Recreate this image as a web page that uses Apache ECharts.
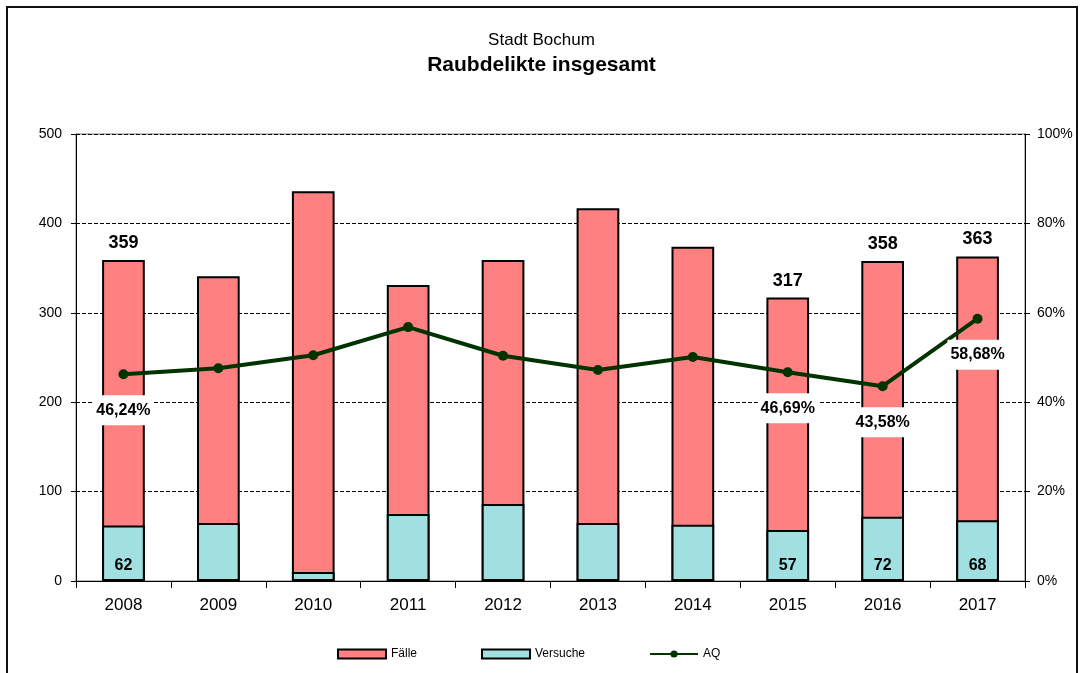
<!DOCTYPE html>
<html>
<head>
<meta charset="utf-8">
<script src="https://cdn.jsdelivr.net/npm/echarts@6/dist/echarts.min.js"></script>
<style>
  html, body { margin: 0; padding: 0; background: #fff; }
  #wrap { position: relative; width: 1083px; height: 673px; }
  #frame {
    position: absolute; left: 6px; top: 6px; width: 1072px; height: 680px;
    border: 2px solid #111; border-bottom: none; box-sizing: border-box;
  }
  #chart { position: absolute; left: 0; top: 0; width: 1083px; height: 673px; }
</style>
</head>
<body>
<div id="wrap">
  <div id="frame"></div>
  <div id="chart"></div>
</div>
<script>
// data
const years = ['2008', '2009', '2010', '2011', '2012', '2013', '2014', '2015', '2016', '2017']
const faelle = [359, 341, 436, 331, 359, 417, 374, 317, 358, 363]
const versuche = [62, 65, 10, 75, 86, 65, 63, 57, 72, 68]
const aq = [46.24, 47.6, 50.5, 56.8, 50.4, 47.2, 50.1, 46.69, 43.58, 58.68]
// only these years carry value labels in the original
const labelledYears = ['2008', '2015', '2016', '2017']

const FONT = 'Liberation Sans, Arial, sans-serif'
const showLabel = i => labelledYears.indexOf(years[i]) >= 0

let chart = echarts.init(document.getElementById('chart'), null, { renderer: 'canvas' })

chart.setOption({
  animation: false,
  backgroundColor: 'transparent',
  textStyle: { fontFamily: FONT, color: '#000' },
  title: [
    {
      text: 'Stadt Bochum',
      left: 'center',
      top: 27,
      textStyle: { fontFamily: FONT, fontSize: 17, fontWeight: 'normal', color: '#000' }
    },
    {
      text: 'Raubdelikte insgesamt',
      left: 'center',
      top: 50,
      textStyle: { fontFamily: FONT, fontSize: 21, fontWeight: 'bold', color: '#000' }
    }
  ],
  legend: {
    left: 332,
    top: 643,
    itemGap: 64,
    itemWidth: 48,
    itemHeight: 9,
    textStyle: { fontFamily: FONT, fontSize: 12, color: '#000' },
    data: [
      { name: 'Fälle', icon: 'rect' },
      { name: 'Versuche', icon: 'rect' },
      { name: 'AQ' }
    ]
  },
  grid: {
    left: 76,
    right: 58,
    top: 134,
    bottom: 92,
    show: true,
    borderColor: '#777',
    borderWidth: 1
  },
  xAxis: {
    type: 'category',
    data: years,
    axisLine: { lineStyle: { color: '#000', width: 1 } },
    axisTick: { show: true, length: 7, lineStyle: { color: '#000' } },
    axisLabel: { fontFamily: FONT, fontSize: 17, color: '#000', margin: 16 }
  },
  yAxis: [
    {
      type: 'value',
      min: 0,
      max: 500,
      interval: 100,
      axisLine: { show: true, lineStyle: { color: '#000', width: 1 } },
      axisTick: { show: true, length: 5, lineStyle: { color: '#000' } },
      axisLabel: { fontFamily: FONT, fontSize: 14, color: '#000', margin: 14 },
      splitLine: { show: true, lineStyle: { color: '#000', type: [4, 2], width: 1 } }
    },
    {
      type: 'value',
      min: 0,
      max: 100,
      interval: 20,
      axisLine: { show: true, lineStyle: { color: '#000', width: 1 } },
      axisTick: { show: true, length: 5, lineStyle: { color: '#000' } },
      axisLabel: { fontFamily: FONT, fontSize: 14, color: '#000', margin: 12, formatter: '{value}%' },
      splitLine: { show: false }
    }
  ],
  series: [
    {
      name: 'Fälle',
      type: 'bar',
      barWidth: '45%',
      barGap: '-100%',
      z: 2,
      itemStyle: { color: '#FF8080', borderColor: '#000', borderWidth: 2 },
      data: faelle.map((v, i) => ({
        value: v,
        label: {
          show: showLabel(i),
          position: 'top',
          distance: 8,
          fontFamily: FONT,
          fontSize: 18,
          fontWeight: 'bold',
          color: '#000'
        }
      }))
    },
    {
      name: 'Versuche',
      type: 'bar',
      barWidth: '45%',
      z: 3,
      itemStyle: { color: '#A0E0E0', borderColor: '#000', borderWidth: 2 },
      data: versuche.map((v, i) => ({
        value: v,
        label: {
          show: showLabel(i),
          position: 'insideBottom',
          distance: 7,
          fontFamily: FONT,
          fontSize: 16,
          fontWeight: 'bold',
          color: '#000'
        }
      }))
    },
    {
      name: 'AQ',
      type: 'line',
      yAxisIndex: 1,
      z: 5,
      symbol: 'circle',
      symbolSize: 10,
      lineStyle: { color: '#003300', width: 4 },
      itemStyle: { color: '#003300' },
      data: aq.map((v, i) => ({
        value: v,
        label: {
          show: showLabel(i),
          position: 'bottom',
          distance: 16,
          fontFamily: FONT,
          fontSize: 16,
          fontWeight: 'bold',
          color: '#000',
          backgroundColor: '#fff',
          padding: [7, 3, 7, 3],
          formatter: p => p.value.toFixed(2).replace('.', ',') + '%'
        }
      }))
    }
  ]
})
</script>
</body>
</html>
